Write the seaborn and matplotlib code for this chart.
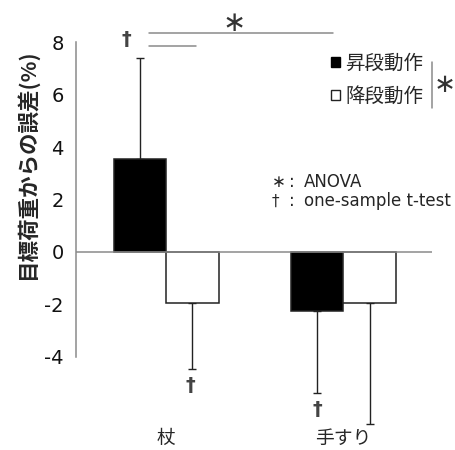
import matplotlib
matplotlib.use('Agg')
import matplotlib.pyplot as plt
import seaborn as sns
import pandas as pd
from matplotlib.patches import Patch
from matplotlib.lines import Line2D

# データ
conditions = ['杖', '手すり']
movements = ['昇段動作', '降段動作']
ascend_mean = [3.55, -2.25]
ascend_sd = [3.85, 3.13]
descend_mean = [-1.93, -1.93]
descend_sd = [2.55, 4.65]
y_ticks = [-4, -2, 0, 2, 4, 6, 8]
y_label = '目標荷重からの誤差(%)'

df = pd.DataFrame({
    'cond': conditions * 2,
    'move': [movements[0]] * 2 + [movements[1]] * 2,
    'mean': ascend_mean + descend_mean,
})

sns.set_style('white')
plt.rcParams['font.family'] = ['Noto Sans CJK JP', 'DejaVu Sans']

GRAY = '#8a8a8a'
DARK = '#222222'

fig = plt.figure(figsize=(4.56, 4.5), dpi=100)
ax = fig.add_axes([0.1667, 0.0209, 0.7807, 0.9722])

sns.barplot(data=df, x='cond', y='mean', hue='move', order=conditions,
            hue_order=movements, palette={movements[0]: 'black', movements[1]: 'white'},
            width=0.59, edgecolor=DARK, linewidth=1.1, errorbar=None,
            legend=False, ax=ax, zorder=2)

# 片側エラーバー
for cont, means, sds in zip(ax.containers, [ascend_mean, descend_mean],
                            [ascend_sd, descend_sd]):
    for bar, m, s in zip(cont, means, sds):
        x = bar.get_x() + bar.get_width() / 2
        lower = s if m < 0 else 0
        upper = s if m > 0 else 0
        ax.errorbar(x, m, yerr=[[lower], [upper]], fmt='none', ecolor=DARK,
                    elinewidth=1.0, capsize=3, capthick=1.0, zorder=1)

ax.axhline(0, color=GRAY, lw=1.1, zorder=3)
ax.set_xlim(-0.51, 1.5)
ax.set_ylim(-7.2, 9.5)
ax.set_yticks(y_ticks)
ax.set_yticklabels([str(t) for t in y_ticks], fontfamily='DejaVu Sans', fontsize=14)
sns.despine(ax=ax, bottom=True)
ax.spines['left'].set_bounds(-4, 8)
ax.spines['left'].set_color(GRAY)
ax.spines['left'].set_linewidth(1.1)
ax.tick_params(axis='y', length=4, width=1.1, color=GRAY, pad=5, labelcolor='#111111')
ax.tick_params(axis='x', length=0, pad=-9, labelsize=13.5)
ax.set_xlabel('')
ax.set_ylabel(y_label, fontsize=15.5, fontweight='bold', va='center')
ax.yaxis.set_label_coords(-0.14, 0.632)

# 有意差表示
ax.plot([-0.10, 0.94], [8.36, 8.36], color=GRAY, lw=1.1, clip_on=False)
ax.plot([-0.10, 0.17], [7.86, 7.86], color=GRAY, lw=1.1, clip_on=False)
ax.text(0.38, 8.75, '∗', ha='center', va='center', fontsize=20, color='#333333',
        fontfamily='DejaVu Sans')
for dx, dy in [(-0.226, 8.1), (0.136, -5.08), (0.853, -6.03)]:
    ax.text(dx, dy, '†', ha='center', va='center', fontsize=14, color='#444444',
            fontfamily='DejaVu Sans', fontweight='bold')

# 凡例
handles = [Patch(facecolor='black', edgecolor='black'),
           Patch(facecolor='white', edgecolor=DARK, linewidth=1.0)]
ax.legend(handles=handles, labels=movements, frameon=False, fontsize=14,
          handlelength=0.45, handleheight=0.45, handletextpad=0.3,
          labelspacing=0.62, borderpad=0, borderaxespad=0,
          loc='upper left', bbox_to_anchor=(331 / 456, 1 - 53 / 450),
          bbox_transform=fig.transFigure)
fig.add_artist(Line2D([432 / 456, 432 / 456], [1 - 62 / 450, 1 - 108 / 450],
                      color=GRAY, lw=1.1))
fig.text(445 / 456, 1 - 85 / 450, '∗', ha='center', va='center', fontsize=19,
         color='#333333', fontfamily='DejaVu Sans')

# 注釈
fig.text(272 / 456, 1 - 182 / 450, '∗', ha='left', va='center', fontsize=12,
         fontfamily='DejaVu Sans')
fig.text(272 / 456, 1 - 201 / 450, '†', ha='left', va='center', fontsize=11,
         fontfamily='DejaVu Sans')
for yy in [182, 201]:
    fig.text(289 / 456, 1 - yy / 450, ':', ha='left', va='center', fontsize=12,
             fontfamily='DejaVu Sans')
fig.text(304 / 456, 1 - 182 / 450, 'ANOVA', ha='left', va='center', fontsize=12,
         fontfamily='DejaVu Sans')
fig.text(304 / 456, 1 - 201 / 450, 'one-sample t-test', ha='left', va='center',
         fontsize=12, fontfamily='DejaVu Sans')

fig.savefig('out.png', dpi=100)
